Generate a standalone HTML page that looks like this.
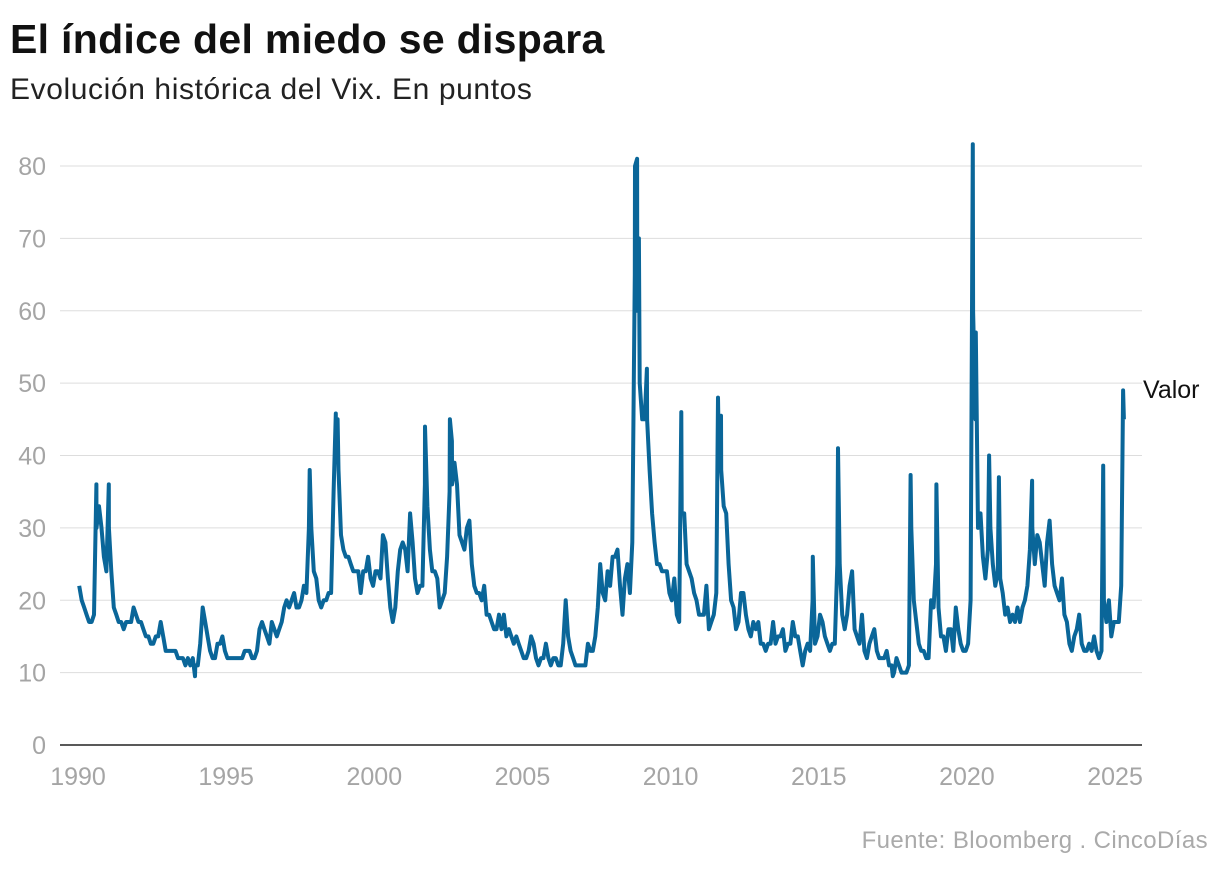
<!DOCTYPE html>
<html><head><meta charset="utf-8"><style>
body{margin:0;background:#fff;width:1220px;height:872px;overflow:hidden;font-family:"Liberation Sans",sans-serif}
#title{position:absolute;left:10px;top:16px;font-size:41px;font-weight:bold;color:#111;letter-spacing:0.3px}
#sub{position:absolute;left:10px;top:73px;font-size:30px;color:#222;letter-spacing:0.6px}
#src{position:absolute;right:12px;top:827px;font-size:24px;color:#aaa;letter-spacing:0.4px}
svg{position:absolute;left:0;top:0}
</style></head><body>
<div id="title">El índice del miedo se dispara</div>
<div id="sub">Evolución histórica del Vix. En puntos</div>
<svg id="chart" width="1220" height="872"></svg>
<div id="src">Fuente: Bloomberg . CincoDías</div>
<script>
const startYear = 1990;
const monthlyValues = [
22,20,19,18,17,17,18,30,33,30,26,24,
30,24,19,18,17,17,16,17,17,17,19,18,
17,17,16,15,15,14,14,15,15,17,15,13,
13,13,13,13,12,12,12,11,12,11,12,11,
11,14,19,17,15,13,12,12,14,14,15,13,
12,12,12,12,12,12,12,13,13,13,12,12,
13,16,17,16,15,14,17,16,15,16,17,19,
20,19,20,21,19,19,20,22,21,30,30,24,
23,20,19,20,20,21,21,35,40,38,29,27,
26,26,25,24,24,24,21,24,24,26,23,22,
24,24,23,29,28,23,19,17,19,24,27,28,
27,24,32,28,23,21,22,22,36,33,27,24,
24,23,19,20,21,26,35,36,39,36,29,28,
27,30,31,25,22,21,21,20,22,18,18,17,
16,16,18,16,18,15,16,15,14,15,14,13,
12,12,13,15,14,12,11,12,12,14,12,11,
12,12,11,11,14,20,15,13,12,11,11,11,
11,11,14,13,13,15,19,25,21,20,24,22,
26,26,27,22,18,23,25,21,28,65,60,50,
45,45,45,38,32,28,25,25,24,24,24,21,
20,23,18,17,32,32,25,24,23,21,20,18,
18,18,22,16,17,18,21,42,38,33,32,25,
20,19,16,17,21,21,18,16,15,17,16,17,
14,14,13,14,14,17,14,15,15,16,13,14,
14,17,15,15,13,11,13,14,13,20,14,15,
18,17,15,14,13,14,14,25,25,18,16,18,
22,24,16,15,14,18,13,12,14,15,16,13,
12,12,12,13,11,11,10,12,11,10,10,10,
11,30,20,17,14,13,13,12,12,20,19,25,
19,15,15,13,16,16,13,19,16,14,13,13,
14,20,60,45,30,32,26,23,27,30,25,22,
24,23,21,18,19,17,18,17,19,17,19,20,
22,27,30,25,29,28,25,22,28,31,25,22,
21,20,23,18,17,14,13,15,16,18,14,13,
13,14,13,15,13,12,13,20,17,20,15,17,
17,17,22];
const spikeDates = [1990.62,1991.04,1993.95,1997.82,1998.7,1998.76,2001.71,2002.55,2002.62,2008.8,2008.87,2008.93,2009.2,2010.36,2011.6,2011.7,2014.8,2015.65,2017.5,2018.1,2018.97,2020.2,2020.3,2020.75,2021.08,2022.2,2024.6,2025.27,2025.3];
const spikeValues = [36,36,9.5,38,45.8,45,44,45,42,80,81,70,52,46,48,45.5,26,41,9.5,37.3,36,83,57,40,37,36.5,38.6,49,45];
const yTicks = [0,10,20,30,40,50,60,70,80];
const xTicks = [1990,1995,2000,2005,2010,2015,2020,2025];

const svg = document.getElementById('chart');
const NS = 'http://www.w3.org/2000/svg';
const yS = v => 745 - v * 7.2375;
const xS = t => 78 + (t - 1990) * 29.63;
function mk(tag, attrs){const e=document.createElementNS(NS,tag);for(const k in attrs)e.setAttribute(k,attrs[k]);svg.appendChild(e);return e;}

yTicks.forEach(v=>{
  if(v>0){const g=mk('line',{x1:60,x2:1142,y1:yS(v),y2:yS(v),stroke:'#dddddd','stroke-width':1});
  
  }
  const t=mk('text',{x:46,y:yS(v)+9,'text-anchor':'end','font-size':25,fill:'#a5a5a5','font-family':'Liberation Sans, sans-serif'});
  t.textContent=v;
  
  
});
xTicks.forEach(y=>{
  const t=mk('text',{x:xS(y),y:785,'text-anchor':'middle','font-size':25,fill:'#a5a5a5','font-family':'Liberation Sans, sans-serif'});
  t.textContent=y;
  
  
});
const ax=mk('line',{x1:60,x2:1142,y1:745,y2:745,stroke:'#222','stroke-width':1.5});



let pts = monthlyValues.map((v,i)=>[startYear + (i+0.5)/12, v]);
spikeDates.forEach((d,i)=>pts.push([d, spikeValues[i]]));
pts.sort((a,b)=>a[0]-b[0]);
const path = mk('path',{d:pts.map((p,i)=>(i?'L':'M')+xS(p[0]).toFixed(1)+','+yS(p[1]).toFixed(1)).join(''),fill:'none',stroke:'#0a6699','stroke-width':4,'stroke-linejoin':'round'});



const lab=mk('text',{x:1143,y:398,'font-size':25,fill:'#111','font-family':'Liberation Sans, sans-serif'});
lab.textContent='Valor';


</script>
</body></html>
